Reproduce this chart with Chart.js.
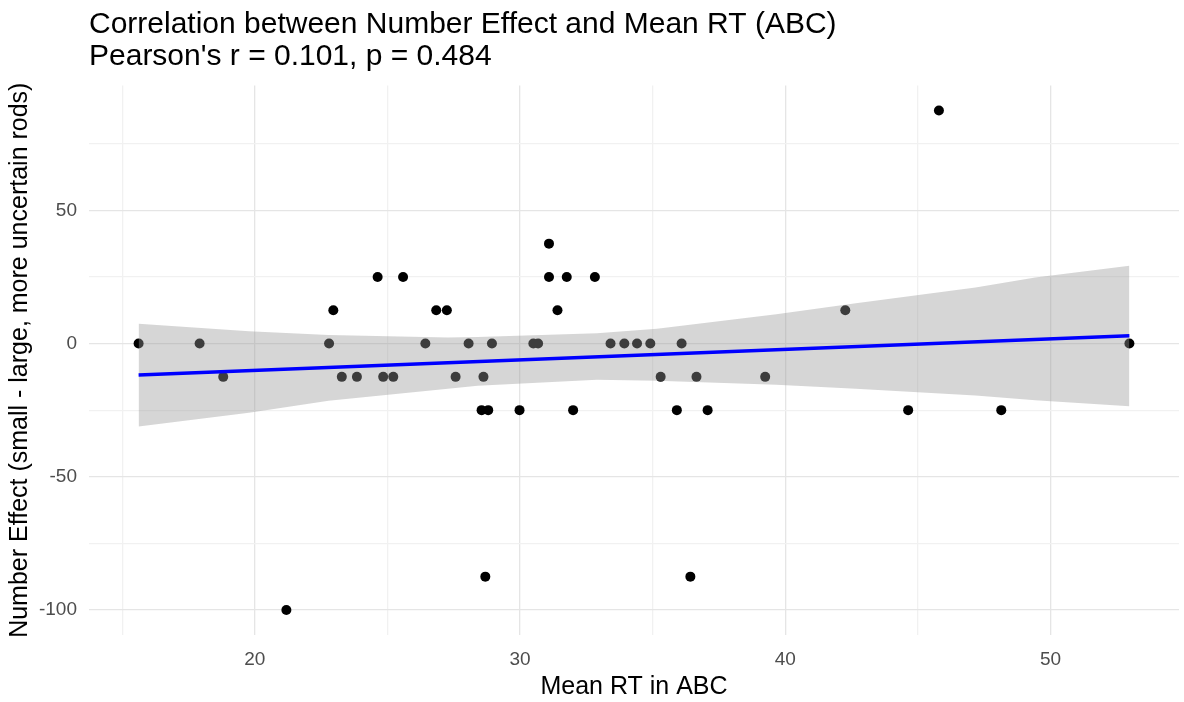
<!DOCTYPE html>
<html>
<head>
<meta charset="utf-8">
<title>Number Effect vs Mean RT</title>
<script src="https://cdn.jsdelivr.net/npm/chart.js@4.4.1/dist/chart.umd.min.js"></script>
<style>
  html, body { margin: 0; padding: 0; background: #ffffff; }
  #wrap { width: 1184px; height: 702px; }
</style>
</head>
<body>
<div id="wrap"><canvas id="corrChart" width="1184" height="702"></canvas></div>
<script>
// participants: mean RT in ABC vs number effect
const meanRT = [15.62, 17.92, 18.81, 21.19, 22.80, 22.96, 23.28, 23.85, 24.63, 24.84,
                25.22, 25.59, 26.43, 26.84, 27.24, 27.57, 28.06, 28.55, 28.62, 28.69,
                28.80, 28.94, 29.98, 30.50, 30.68, 31.09, 31.09, 31.41, 31.76, 32.00,
                32.82, 33.41, 33.93, 34.41, 34.91, 35.30, 35.91, 36.09, 36.42, 36.65,
                37.07, 39.24, 42.26, 44.63, 45.79, 48.14, 52.97];
const numberEffect = [0, 0, -12.5, -100, 0, 12.5, -12.5, -12.5, 25, -12.5,
                      -12.5, 25, 0, 12.5, 12.5, -12.5, 0, -25, -12.5, -87.5,
                      -25, 0, -25, 0, 0, 37.5, 25, 12.5, 25, -25,
                      25, 0, 0, 0, 0, -12.5, -25, 0, -87.5, -12.5,
                      -25, -12.5, 12.5, -25, 87.5, -25, 0];

// lm fit line and 95% band
const fitLineX = [15.62, 52.97];
const fitLineY = [-11.8, 2.9];
const bandX = [15.62, 19.78, 22.78, 27.28, 28.40, 32.90, 35.16, 39.66, 42.66, 47.17, 49.42, 52.97];
const bandUpper = [7.4, 4.6, 3.2, 2.3, 2.5, 3.9, 5.6, 11.0, 15.1, 21.0, 24.8, 29.2];
const bandLower = [-31.1, -26.0, -21.5, -17.0, -15.8, -13.6, -14.0, -15.5, -17.0, -19.5, -21.3, -23.5];

// axes
const xGrid = [15, 20, 25, 30, 35, 40, 45, 50];
const xLabels = [20, 30, 40, 50];
const yGrid = [-100, -75, -50, -25, 0, 25, 50, 75];
const yLabels = [-100, -50, 0, 50];

const font = "'Liberation Sans', Arial, sans-serif";

const toPts = (xs, ys) => xs.map((x, i) => ({ x: x, y: ys[i] }));

const gridColor = (labels) => (ctx) =>
    labels.includes(ctx.tick && ctx.tick.value) ? '#E5E5E5' : '#F1F1F1';

new Chart(document.getElementById('corrChart'), {
    type: 'scatter',
    data: {
        datasets: [
            {
                label: 'fit',
                data: toPts(fitLineX, fitLineY),
                showLine: true,
                borderColor: '#0000FF',
                borderWidth: 3.5,
                pointRadius: 0,
                fill: false,
                order: 0
            },
            {
                label: 'lower',
                data: toPts(bandX, bandLower),
                showLine: true,
                borderWidth: 0,
                borderColor: 'rgba(0,0,0,0)',
                pointRadius: 0,
                fill: false,
                order: 1
            },
            {
                label: 'upper',
                data: toPts(bandX, bandUpper),
                showLine: true,
                borderWidth: 0,
                borderColor: 'rgba(0,0,0,0)',
                backgroundColor: 'rgba(153,153,153,0.4)',
                pointRadius: 0,
                fill: 1,
                order: 1
            },
            {
                label: 'participants',
                data: toPts(meanRT, numberEffect),
                backgroundColor: '#000000',
                borderWidth: 0,
                pointRadius: 5,
                order: 2
            }
        ]
    },
    options: {
        responsive: false,
        animation: false,
        layout: { padding: 0 },
        plugins: {
            legend: { display: false },
            tooltip: { enabled: false },
            title: {
                display: true,
                text: ['Correlation between Number Effect and Mean RT (ABC)',
                       "Pearson's r = 0.101, p = 0.484"],
                align: 'start',
                fullSize: false,
                color: '#000000',
                font: { family: font, size: 30, weight: 'normal', lineHeight: 1.09 },
                padding: { top: 8, bottom: 12 }
            }
        },
        scales: {
            x: {
                type: 'linear',
                min: 13.75,
                max: 54.84,
                afterBuildTicks: (axis) => { axis.ticks = xGrid.map(v => ({ value: v })); },
                afterFit: (axis) => { axis.height = 67; },
                border: { display: false },
                grid: { color: gridColor(xLabels), lineWidth: 1.3, drawTicks: false },
                ticks: {
                    autoSkip: false,
                    maxRotation: 0,
                    padding: 13,
                    color: '#4D4D4D',
                    font: { family: font, size: 19 },
                    callback: (v) => xLabels.includes(v) ? String(v) : ''
                },
                title: {
                    display: true,
                    text: 'Mean RT in ABC',
                    color: '#000000',
                    font: { family: font, size: 25, lineHeight: 1.1 },
                    padding: { top: 1, bottom: 1 }
                }
            },
            y: {
                type: 'linear',
                min: -109.4,
                max: 96.9,
                afterBuildTicks: (axis) => { axis.ticks = yGrid.map(v => ({ value: v })); },
                afterFit: (axis) => { axis.width = 89; },
                border: { display: false },
                grid: { color: gridColor(yLabels), lineWidth: 1.3, drawTicks: false },
                ticks: {
                    autoSkip: false,
                    padding: 12,
                    color: '#4D4D4D',
                    font: { family: font, size: 19 },
                    callback: (v) => yLabels.includes(v) ? String(v) : ''
                },
                title: {
                    display: true,
                    text: 'Number Effect (small - large, more uncertain rods)',
                    color: '#000000',
                    font: { family: font, size: 25, lineHeight: 1.1 },
                    padding: { top: 6, bottom: 1 }
                }
            }
        }
    }
});
</script>
</body>
</html>
